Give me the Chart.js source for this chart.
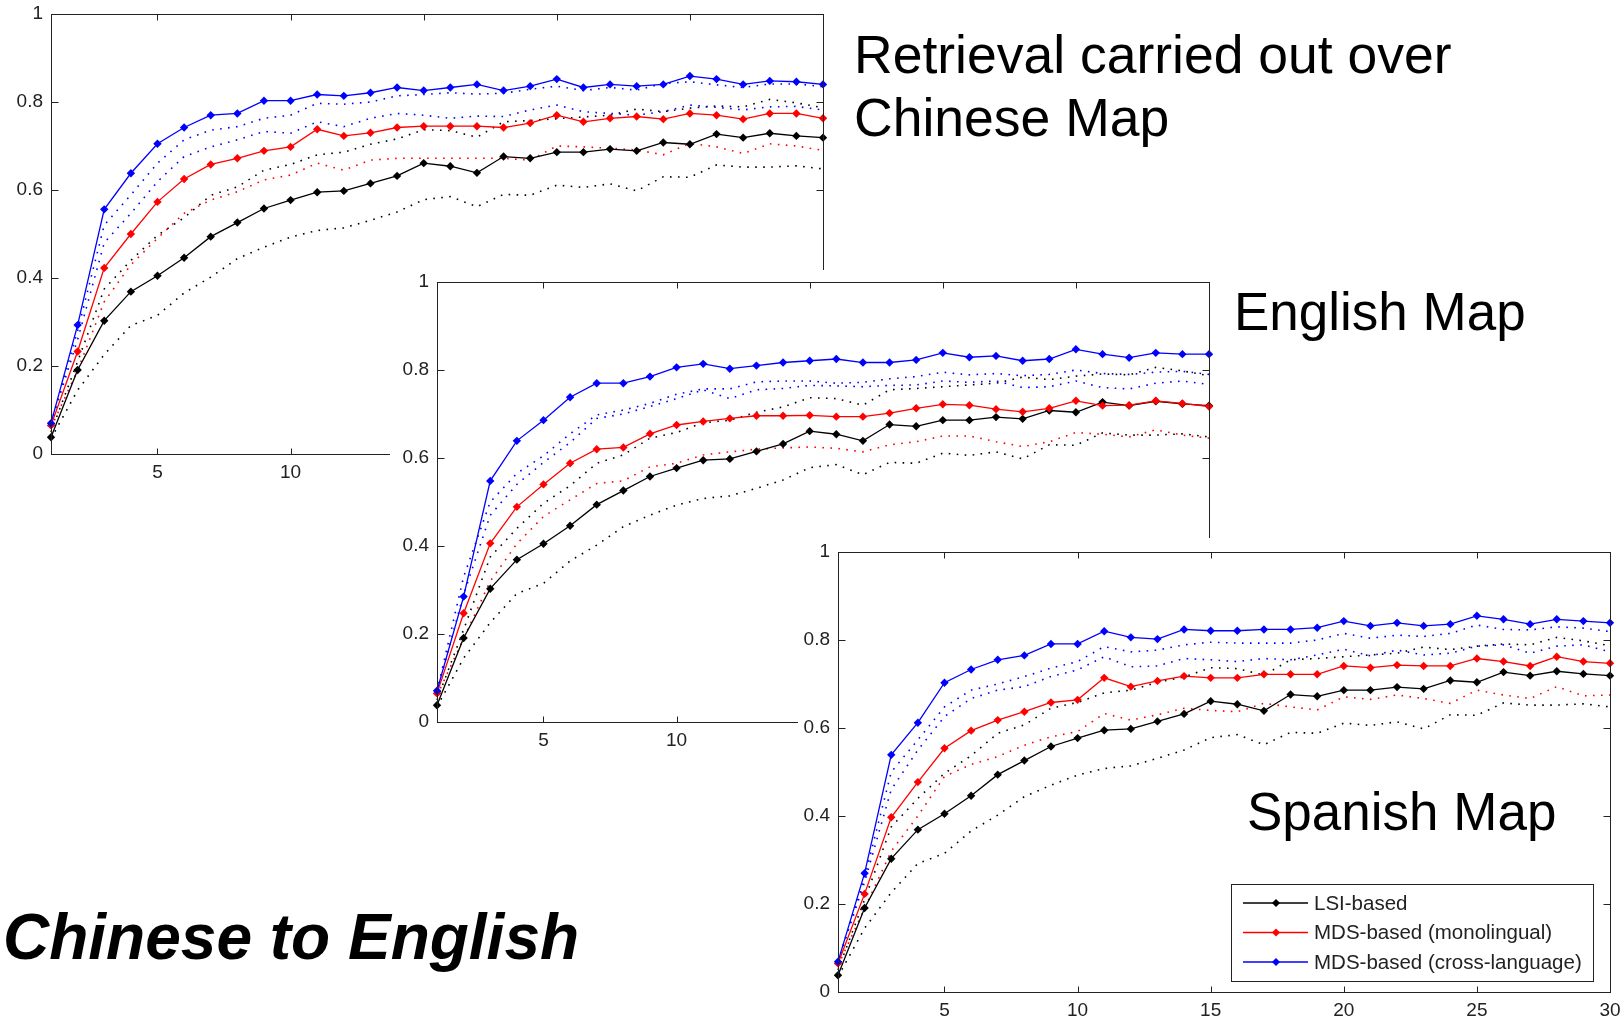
<!DOCTYPE html>
<html>
<head>
<meta charset="utf-8">
<script src="https://cdn.jsdelivr.net/npm/chart.js@4.4.1/dist/chart.umd.min.js"></script>
<style>
  html, body { margin: 0; padding: 0; background: #fff; }
  body { width: 1621px; height: 1020px; position: relative; overflow: hidden; font-family: "Liberation Sans", Arial, sans-serif; }
  canvas { position: absolute; background: #fff; }
  .label { position: absolute; color: #000; white-space: nowrap; }
  .map { font-size: 53px; line-height: 53px; }
</style>
</head>
<body>

<canvas id="chineseChart" width="837" height="490" style="left:0px; top:0px;"></canvas>
<div class="label map" style="left:854px; top:23px; line-height:63px; font-size:53.5px;">Retrieval carried out over<br>Chinese Map</div>

<canvas id="englishChart" width="833" height="490" style="left:390px; top:270px;"></canvas>
<div class="label map" style="left:1234px; top:285px;">English Map</div>

<canvas id="spanishChart" width="826" height="486" style="left:798px; top:538px;"></canvas>
<div class="label map" style="left:1247px; top:785px;">Spanish Map</div>

<div class="label" style="left:3px; top:905px; font-size:64px; line-height:64px; font-weight:bold; font-style:italic;">Chinese to English</div>

<script>
// ---- data ----
const xValues = [1, 2, 3, 4, 5, 6, 7, 8, 9, 10, 11, 12, 13, 14, 15, 16, 17, 18, 19, 20, 21, 22, 23, 24, 25, 26, 27, 28, 29, 30];
const xTicks = [5, 10, 15, 20, 25, 30];
const yTicks = [0, 0.2, 0.4, 0.6, 0.8, 1];
const yTickLabels = ['0', '0.2', '0.4', '0.6', '0.8', '1'];
const legendLabels = ['LSI-based', 'MDS-based (monolingual)', 'MDS-based (cross-language)'];
const colors = ['#000000', '#ff0000', '#0000ff'];

// LSI baseline (same in every panel)
const lsiMean  = [0.038, 0.191, 0.303, 0.369, 0.405, 0.446, 0.494, 0.526, 0.558, 0.577, 0.595, 0.598, 0.615, 0.632, 0.661, 0.654, 0.639, 0.676, 0.672, 0.686, 0.686, 0.693, 0.689, 0.708, 0.704, 0.727, 0.719, 0.729, 0.723, 0.719];
const lsiUpper = [0.05, 0.21, 0.375, 0.44, 0.497, 0.537, 0.588, 0.607, 0.645, 0.658, 0.68, 0.686, 0.704, 0.716, 0.737, 0.735, 0.72, 0.755, 0.758, 0.762, 0.766, 0.77, 0.784, 0.778, 0.786, 0.791, 0.789, 0.806, 0.798, 0.787];
const lsiLower = [0.035, 0.145, 0.226, 0.292, 0.315, 0.366, 0.402, 0.444, 0.47, 0.493, 0.508, 0.514, 0.531, 0.55, 0.578, 0.585, 0.562, 0.59, 0.588, 0.611, 0.606, 0.614, 0.598, 0.63, 0.629, 0.657, 0.652, 0.652, 0.655, 0.648];

// Chinese map
const chMono     = [0.065, 0.233, 0.423, 0.5, 0.573, 0.625, 0.658, 0.672, 0.689, 0.698, 0.738, 0.723, 0.73, 0.742, 0.745, 0.745, 0.745, 0.742, 0.752, 0.77, 0.755, 0.763, 0.767, 0.761, 0.774, 0.77, 0.761, 0.774, 0.774, 0.763];
const chMonoDot  = [0.06, 0.19, 0.346, 0.43, 0.49, 0.547, 0.577, 0.596, 0.623, 0.634, 0.661, 0.645, 0.668, 0.672, 0.672, 0.672, 0.672, 0.672, 0.668, 0.7, 0.698, 0.695, 0.691, 0.68, 0.706, 0.698, 0.683, 0.705, 0.7, 0.69];
const chCross    = [0.07, 0.293, 0.556, 0.638, 0.705, 0.742, 0.77, 0.774, 0.803, 0.803, 0.817, 0.814, 0.821, 0.833, 0.826, 0.833, 0.84, 0.826, 0.836, 0.852, 0.833, 0.84, 0.836, 0.84, 0.859, 0.852, 0.84, 0.848, 0.846, 0.84];
const chCrossDotA = [0.07, 0.28, 0.52, 0.589, 0.661, 0.714, 0.736, 0.744, 0.763, 0.77, 0.797, 0.795, 0.8, 0.814, 0.817, 0.821, 0.818, 0.82, 0.829, 0.836, 0.826, 0.833, 0.827, 0.842, 0.846, 0.839, 0.833, 0.841, 0.841, 0.835];
const chCrossDotB = [0.07, 0.26, 0.48, 0.547, 0.619, 0.676, 0.698, 0.714, 0.733, 0.729, 0.755, 0.744, 0.763, 0.774, 0.77, 0.763, 0.768, 0.767, 0.782, 0.793, 0.778, 0.774, 0.77, 0.778, 0.793, 0.788, 0.782, 0.789, 0.79, 0.782];

// English map
const enMono     = [0.065, 0.247, 0.406, 0.489, 0.54, 0.588, 0.62, 0.624, 0.655, 0.675, 0.683, 0.69, 0.696, 0.696, 0.697, 0.694, 0.694, 0.702, 0.713, 0.722, 0.72, 0.711, 0.705, 0.713, 0.73, 0.719, 0.72, 0.73, 0.724, 0.717];
const enMonoDot  = [0.06, 0.19, 0.32, 0.405, 0.467, 0.505, 0.542, 0.548, 0.58, 0.588, 0.607, 0.614, 0.62, 0.623, 0.625, 0.622, 0.614, 0.63, 0.637, 0.65, 0.65, 0.637, 0.626, 0.637, 0.658, 0.654, 0.648, 0.664, 0.652, 0.645];
const enCross    = [0.071, 0.285, 0.548, 0.639, 0.686, 0.738, 0.77, 0.77, 0.785, 0.806, 0.814, 0.803, 0.81, 0.817, 0.821, 0.825, 0.817, 0.817, 0.823, 0.839, 0.829, 0.832, 0.821, 0.825, 0.847, 0.836, 0.828, 0.839, 0.836, 0.836];
const enCrossDotA = [0.07, 0.33, 0.5, 0.565, 0.605, 0.655, 0.698, 0.709, 0.724, 0.745, 0.757, 0.757, 0.773, 0.775, 0.775, 0.77, 0.772, 0.78, 0.785, 0.795, 0.789, 0.792, 0.787, 0.79, 0.8, 0.792, 0.79, 0.795, 0.797, 0.79];
const enCrossDotB = [0.07, 0.29, 0.47, 0.54, 0.59, 0.635, 0.69, 0.7, 0.717, 0.735, 0.755, 0.735, 0.755, 0.758, 0.765, 0.764, 0.762, 0.765, 0.766, 0.775, 0.772, 0.775, 0.76, 0.762, 0.775, 0.76, 0.757, 0.77, 0.775, 0.767];

// Spanish map
const esMono     = [0.065, 0.223, 0.397, 0.477, 0.554, 0.594, 0.618, 0.637, 0.658, 0.664, 0.714, 0.694, 0.707, 0.718, 0.714, 0.714, 0.722, 0.722, 0.722, 0.741, 0.737, 0.743, 0.741, 0.741, 0.758, 0.751, 0.741, 0.762, 0.751, 0.747];
const esMonoDot  = [0.06, 0.19, 0.32, 0.4, 0.49, 0.517, 0.535, 0.561, 0.58, 0.592, 0.633, 0.618, 0.63, 0.645, 0.64, 0.637, 0.656, 0.648, 0.641, 0.671, 0.665, 0.675, 0.667, 0.656, 0.686, 0.675, 0.667, 0.694, 0.673, 0.675];
const esCross    = [0.069, 0.27, 0.539, 0.612, 0.703, 0.733, 0.755, 0.765, 0.791, 0.791, 0.82, 0.806, 0.802, 0.824, 0.821, 0.821, 0.824, 0.824, 0.828, 0.843, 0.832, 0.839, 0.832, 0.836, 0.855, 0.847, 0.836, 0.847, 0.843, 0.839];
const esCrossDotA = [0.07, 0.26, 0.5, 0.573, 0.648, 0.686, 0.7, 0.717, 0.736, 0.751, 0.785, 0.773, 0.777, 0.789, 0.795, 0.793, 0.793, 0.793, 0.8, 0.815, 0.804, 0.811, 0.808, 0.815, 0.834, 0.824, 0.823, 0.83, 0.827, 0.819];
const esCrossDotB = [0.07, 0.25, 0.46, 0.55, 0.626, 0.667, 0.686, 0.694, 0.717, 0.732, 0.762, 0.739, 0.741, 0.758, 0.755, 0.751, 0.758, 0.755, 0.766, 0.779, 0.764, 0.777, 0.766, 0.77, 0.786, 0.789, 0.77, 0.786, 0.789, 0.773];

const FONT = '"Liberation Sans", Arial, sans-serif';
const AXIS_COLOR = '#222';

// draw the matlab-style box with inward ticks
const framePlugin = {
  id: 'frame',
  afterDatasetsDraw(chart) {
    const { ctx, chartArea: a, scales: { x, y } } = chart;
    const l = Math.round(a.left) + 0.5, r = Math.round(a.right) + 0.5;
    const t = Math.round(a.top) + 0.5, b = Math.round(a.bottom) + 0.5;
    ctx.save();
    ctx.strokeStyle = AXIS_COLOR;
    ctx.lineWidth = 1;
    ctx.strokeRect(l, t, r - l, b - t);
    ctx.beginPath();
    xTicks.forEach(v => {
      const px = Math.round(x.getPixelForValue(v)) + 0.5;
      ctx.moveTo(px, b); ctx.lineTo(px, b - 6);
      ctx.moveTo(px, t); ctx.lineTo(px, t + 6);
    });
    yTicks.forEach(v => {
      const py = Math.round(y.getPixelForValue(v)) + 0.5;
      ctx.moveTo(l, py); ctx.lineTo(l + 7, py);
      ctx.moveTo(r, py); ctx.lineTo(r - 7, py);
    });
    ctx.stroke();
    ctx.restore();
  }
};

function diamond(ctx, cx, cy, rad) {
  ctx.beginPath();
  ctx.moveTo(cx, cy - rad);
  ctx.lineTo(cx + rad, cy);
  ctx.lineTo(cx, cy + rad);
  ctx.lineTo(cx - rad, cy);
  ctx.closePath();
  ctx.fill();
}

// boxed legend in the lower right corner of the plot
const boxLegendPlugin = {
  id: 'boxLegend',
  afterDraw(chart) {
    const { ctx, chartArea: a } = chart;
    const w = 362, h = 97;
    const bx = Math.round(a.right - 17 - w), by = Math.round(a.bottom - 11 - h);
    ctx.save();
    ctx.fillStyle = '#fff';
    ctx.fillRect(bx, by, w, h);
    ctx.strokeStyle = AXIS_COLOR;
    ctx.lineWidth = 1;
    ctx.strokeRect(bx + 0.5, by + 0.5, w, h);
    ctx.font = '20.5px ' + FONT;
    ctx.textBaseline = 'middle';
    legendLabels.forEach((label, i) => {
      const ds = chart.data.datasets.find(d => d.label === label);
      const ry = by + 19 + i * 29.5;
      ctx.strokeStyle = ds.borderColor;
      ctx.lineWidth = 1.3;
      ctx.beginPath();
      ctx.moveTo(bx + 12, ry); ctx.lineTo(bx + 77, ry);
      ctx.stroke();
      ctx.fillStyle = ds.borderColor;
      diamond(ctx, bx + 45, ry, 4);
      ctx.fillStyle = AXIS_COLOR;
      ctx.fillText(label, bx + 83, ry + 1);
    });
    ctx.restore();
  }
};

function points(ys) {
  return xValues.map((x, i) => ({ x: x, y: ys[i] }));
}

function solid(label, ys, color) {
  return {
    label: label,
    data: points(ys),
    borderColor: color,
    backgroundColor: color,
    borderWidth: 1.3,
    pointStyle: 'rectRot',
    pointRadius: 4.2,
    pointBorderWidth: 0,
    pointBackgroundColor: color,
    clip: 6
  };
}

function dotted(ys, color) {
  return {
    data: points(ys),
    borderColor: color,
    borderWidth: 1.6,
    borderDash: [1.6, 6.4],
    pointRadius: 0,
    clip: 6
  };
}

function buildDatasets(mono, monoDot, cross, crossDotA, crossDotB) {
  // first dataset is drawn last (on top)
  return [
    solid(legendLabels[2], cross, colors[2]),
    solid(legendLabels[1], mono, colors[1]),
    solid(legendLabels[0], lsiMean, colors[0]),
    dotted(crossDotA, colors[2]),
    dotted(crossDotB, colors[2]),
    dotted(monoDot, colors[1]),
    dotted(lsiUpper, colors[0]),
    dotted(lsiLower, colors[0])
  ];
}

// box = plot area inside the canvas: left, top, right margin, x-axis height
function makeOptions(box) {
  const noPad = s => { s.paddingLeft = s.paddingRight = s.paddingTop = s.paddingBottom = 0; };
  return {
    responsive: false,
    animation: false,
    events: [],
    layout: { padding: { left: 0, top: box.top, right: box.right, bottom: 0 } },
    elements: { line: { tension: 0 } },
    plugins: { legend: { display: false }, tooltip: { enabled: false } },
    scales: {
      x: {
        type: 'linear',
        min: 1,
        max: 30,
        afterBuildTicks: s => { s.ticks = xTicks.map(v => ({ value: v })); },
        afterFit: s => { s.height = box.xHeight; noPad(s); },
        grid: { display: false, drawTicks: false },
        border: { display: false },
        ticks: { padding: 7, color: AXIS_COLOR, maxRotation: 0, autoSkip: false, font: { family: FONT, size: 19 }, callback: v => String(v) }
      },
      y: {
        type: 'linear',
        min: 0,
        max: 1,
        afterBuildTicks: s => { s.ticks = yTicks.map(v => ({ value: v })); },
        afterFit: s => { s.width = box.left; noPad(s); },
        grid: { display: false, drawTicks: false },
        border: { display: false },
        ticks: { padding: 8, color: AXIS_COLOR, autoSkip: false, font: { family: FONT, size: 19 }, callback: v => yTickLabels[yTicks.indexOf(v)] }
      }
    }
  };
}

new Chart(document.getElementById('chineseChart'), {
  type: 'line',
  data: { datasets: buildDatasets(chMono, chMonoDot, chCross, chCrossDotA, chCrossDotB) },
  options: makeOptions({ left: 51, top: 14, right: 14, xHeight: 36 }),
  plugins: [framePlugin]
});

new Chart(document.getElementById('englishChart'), {
  type: 'line',
  data: { datasets: buildDatasets(enMono, enMonoDot, enCross, enCrossDotA, enCrossDotB) },
  options: makeOptions({ left: 47, top: 12, right: 14, xHeight: 38 }),
  plugins: [framePlugin]
});

new Chart(document.getElementById('spanishChart'), {
  type: 'line',
  data: { datasets: buildDatasets(esMono, esMonoDot, esCross, esCrossDotA, esCrossDotB) },
  options: makeOptions({ left: 40, top: 14, right: 14, xHeight: 32 }),
  plugins: [framePlugin, boxLegendPlugin]
});
</script>
</body>
</html>
